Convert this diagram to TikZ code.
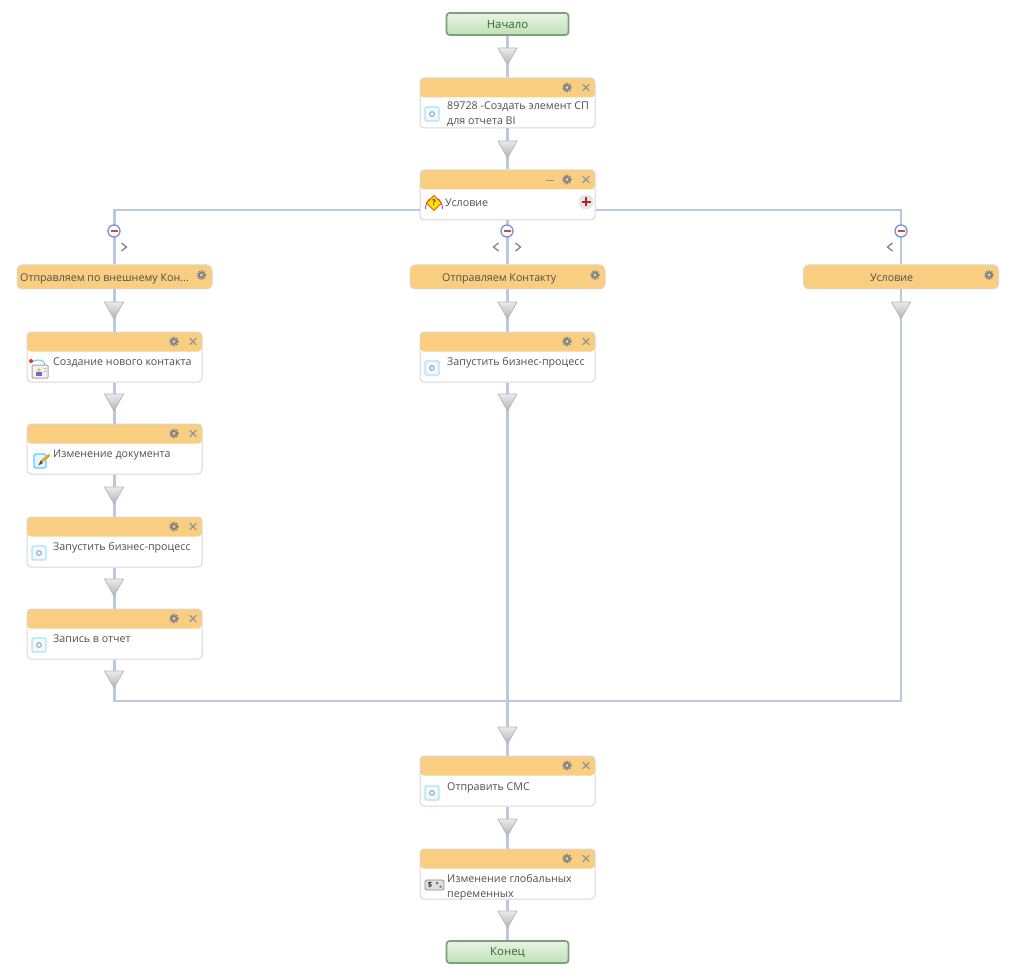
\documentclass[tikz,border=0pt]{standalone}
\usepackage{fontspec}
\setmainfont{Open Sans}
\usetikzlibrary{calc}
\definecolor{hdr}{HTML}{F9CE80}
\definecolor{bord}{HTML}{D8D8D8}
\definecolor{flowc}{HTML}{B9C9E0}
\definecolor{txt}{HTML}{505050}
\definecolor{icong}{HTML}{7C838C}
\definecolor{termd}{HTML}{7F9E7E}
\definecolor{termt}{HTML}{E8F4E4}
\definecolor{termb}{HTML}{BFE0B8}
\definecolor{termx}{HTML}{2F6B2A}
\tikzset{
  x=1pt,y=-1pt,
  flow/.style={draw=flowc,line width=2.2pt},
  lbl/.style={anchor=base west,inner sep=0pt,text=txt,font=\fontsize{10.7}{12}\selectfont},
  actbox/.style={draw=bord,line width=1pt,rounded corners=4pt,fill=white,minimum width=175pt,minimum height=50pt,inner sep=0pt,
    path picture={\fill[hdr] ($(path picture bounding box.north west)$) rectangle ($(path picture bounding box.north east)+(0,-19.5pt)$);}},
  branchbox/.style={draw=bord!80!hdr,line width=1pt,rounded corners=5pt,fill=hdr,minimum width=195pt,minimum height=24pt,inner sep=0pt},
  termbox/.style={draw=termd,line width=1.7pt,rounded corners=3pt,top color=termt,bottom color=termb,minimum width=122pt,minimum height=22pt,inner sep=0pt},
  termlbl/.style={inner sep=0pt,text=termx,font=\fontsize{11.4}{12}\selectfont},
  trishape/.style={draw=black!28,line width=0.8pt,line join=round,top color=black!8,bottom color=black!30},
  gearring/.style={draw=icong,line width=1.7pt},
  geartooth/.style={draw=icong,line width=1.4pt,dash pattern=on 1.4pt off 1.2pt},
  xmark/.style={draw=icong!85,line width=1.1pt},
  chev/.style={draw=icong,line width=1.3pt},
  toggle/.style={circle,draw=flowc!70!blue!85!gray,line width=1.3pt,fill=white,minimum size=12pt,inner sep=0pt},
}
\newcommand{\tri}[2]{\path[trishape] (#1-9.5,#2) -- (#1+9.5,#2) -- (#1,#2+17) -- cycle;}
\newcommand{\gearicon}[2]{\draw[gearring] (#1,#2) circle (2.5pt);\draw[geartooth] (#1,#2) circle (4.1pt);}
\newcommand{\closeicon}[2]{\draw[xmark] (#1-3.3,#2-3.3) -- (#1+3.3,#2+3.3) (#1-3.3,#2+3.3) -- (#1+3.3,#2-3.3);}
\newcommand{\actbtn}[2]{\gearicon{#1-28}{#2+9.5}\closeicon{#1-9}{#2+9.5}}
\newcommand{\blueicon}[2]{\draw[draw=blue!30!cyan!35!white,line width=1.2pt,fill=blue!30!cyan!6!white,rounded corners=1.5pt] (#1-7,#2-7) rectangle (#1+7,#2+7);\draw[draw=blue!25!gray!60!white,line width=1.1pt,fill=white] (#1,#2) circle (2.3pt);}
\newcommand{\minusbtn}[1]{\draw[red!70!black!70!white,line width=1.3pt] ($(#1)+(-3.5,0)$) -- ($(#1)+(3.5,0)$);}
\newcommand{\chevl}[2]{\draw[chev] (#1+2.5,#2-4) -- (#1-2.5,#2) -- (#1+2.5,#2+4);}
\newcommand{\chevr}[2]{\draw[chev] (#1-2.5,#2-4) -- (#1+2.5,#2) -- (#1-2.5,#2+4);}
\begin{document}
\begin{tikzpicture}
\useasboundingbox (0,0) rectangle (1024,973);
% nodes
\node[termbox] (start) at (507.5,24) {};
\node[actbox] (a1) at (507.5,103) {};
\node[actbox] (cond) at (507.5,195) {};
\node[branchbox] (b1) at (114.5,277) {};
\node[branchbox] (b2) at (507.5,277) {};
\node[branchbox] (b3) at (901,277) {};
\node[actbox] (l1) at (114.5,357) {};
\node[actbox] (l2) at (114.5,449) {};
\node[actbox] (l3) at (114.5,542) {};
\node[actbox] (l4) at (114.5,634) {};
\node[actbox] (m1) at (507.5,357) {};
\node[actbox] (f1) at (507.5,781) {};
\node[actbox] (f2) at (507.5,874) {};
\node[termbox] (stop) at (507.5,952) {};
\coordinate (condl) at (cond.west |- 0,210);
\coordinate (condr) at (cond.east |- 0,210);
\coordinate (mergel) at (l4.south |- 0,701);
\coordinate (mergem) at (m1.south |- 0,701);
% connectors
\draw[flow] (start) -- (a1);
\draw[flow] (a1) -- (cond);
\draw[flow] (condl) -| (b1);
\draw[flow] (cond) -- (b2);
\draw[flow] (condr) -| (b3);
\draw[flow] (b1) -- (l1);
\draw[flow] (l1) -- (l2);
\draw[flow] (l2) -- (l3);
\draw[flow] (l3) -- (l4);
\draw[flow] (l4) -- (mergel) -- (mergem);
\draw[flow] (b2) -- (m1);
\draw[flow] (m1) -- (f1);
\draw[flow] (b3.south) |- (mergem);
\draw[flow] (f1) -- (f2);
\draw[flow] (f2) -- (stop);
% triangles
\tri{507.5}{48}\tri{507.5}{141}\tri{507.5}{302}\tri{507.5}{394}\tri{507.5}{727}\tri{507.5}{819}\tri{507.5}{911}
\tri{114}{302}\tri{114}{394}\tri{114}{487}\tri{114}{579}\tri{114}{671}
\tri{901}{302}
% branch toggles
\node[toggle] (t1) at (114,231) {};
\node[toggle] (t2) at (507,231) {};
\node[toggle] (t3) at (901,231) {};
\minusbtn{t1}\minusbtn{t2}\minusbtn{t3}
\chevr{124}{247}\chevl{496}{247}\chevr{518}{247}\chevl{890}{247}
% header buttons
\actbtn{595}{78}\actbtn{595}{170}\actbtn{595}{332}\actbtn{595}{756}\actbtn{595}{849}
\actbtn{202}{332}\actbtn{202}{424}\actbtn{202}{517}\actbtn{202}{609}
\draw[xmark] (545.5,180.5) -- (554,180.5);
\gearicon{201.5}{275}\gearicon{595}{275}\gearicon{989}{275}
% plus button
\node[circle,fill=black!10,minimum size=15pt,inner sep=0pt] (plus) at (586,202) {};
\draw[red!65!black!85!white,line width=1.7pt] (581.5,202) -- (590.5,202) (586,197.5) -- (586,206.5);
% labels
\node[termlbl] (lstart) at (507.5,24.5) {Начало};
\node[termlbl] (lstop) at (507.5,952.5) {Конец};
\node[lbl] (la1a) at (447,110) {89728 -Создать элемент СП};
\node[lbl] (la1b) at (447,125) {для отчета BI};
\node[lbl] (lcond) at (445,207) {Условие};
\node[lbl] (lb1) at (20,281.5) {Отправляем по внешнему Кон...};
\node[lbl] (lb2) at (442,281.5) {Отправляем Контакту};
\node[lbl] (lb3) at (870,281.5) {Условие};
\node[lbl] (ll1) at (53,365) {Создание нового контакта};
\node[lbl] (ll2) at (53,457) {Изменение документа};
\node[lbl] (ll3) at (53,550) {Запустить бизнес-процесс};
\node[lbl] (ll4) at (53,642) {Запись в отчет};
\node[lbl] (lm1) at (447,365) {Запустить бизнес-процесс};
\node[lbl] (lf1) at (447,790) {Отправить СМС};
\node[lbl] (lf2a) at (447,882) {Изменение глобальных};
\node[lbl] (lf2b) at (447,897) {переменных};
% task icons
\blueicon{432}{114}\blueicon{432}{368}\blueicon{39}{553}\blueicon{39}{645}\blueicon{432}{793}
% condition icon
\draw[black!60,line width=0.9pt] (425.5,209) .. controls (426,199) and (431,198) .. (434,198) .. controls (437,198) and (442,199) .. (442.5,209);
\path[fill=yellow!85!orange,draw=orange!70!red,line width=1pt,line join=round] (434,195.5) -- (441.5,203) -- (434,210.5) -- (426.5,203) -- cycle;
\node[inner sep=0pt,font=\fontsize{8}{8}\selectfont\bfseries,text=black!75] (qm) at (434,203) {?};
% contact icon
\draw[blue!40!cyan!60!white,line width=1pt] (32,362) .. controls (38,358) and (45,360) .. (45,365);
\draw[black!35,fill=black!5,line width=1pt,rounded corners=1pt] (32,365) rectangle (48,378);
\fill[blue!45!gray!80!white] (36,375.5) rectangle (42,372);
\fill[orange!60] (39,370) circle (1.8pt);
\fill[black!25] (43.5,368) rectangle (46.5,369) (43.5,371) rectangle (46.5,372);
\fill[red!85] (31,361) circle (2pt);
% document edit icon
\draw[blue!30!cyan!65!white,line width=1.2pt,fill=blue!30!cyan!10!white,rounded corners=1.5pt] (34,454) rectangle (46,468);
\draw[yellow!35!orange!90!black,line width=2.6pt] (41.5,461.5) -- (49.5,455);
\fill[black!70] (38.5,465.5) -- (40.5,460.5) -- (43,463) -- cycle;
% variables icon
\draw[black!45,fill=black!12,line width=0.9pt,rounded corners=1.5pt] (425,880) rectangle (444,890);
\node[inner sep=0pt,font=\fontsize{7.5}{7.5}\selectfont\bfseries,text=black!80] (dollar) at (430,885) {\$};
\fill[black!55] (436,882) rectangle (438,884) (439.5,885.5) rectangle (441.5,887.5);
\end{tikzpicture}
\end{document}
